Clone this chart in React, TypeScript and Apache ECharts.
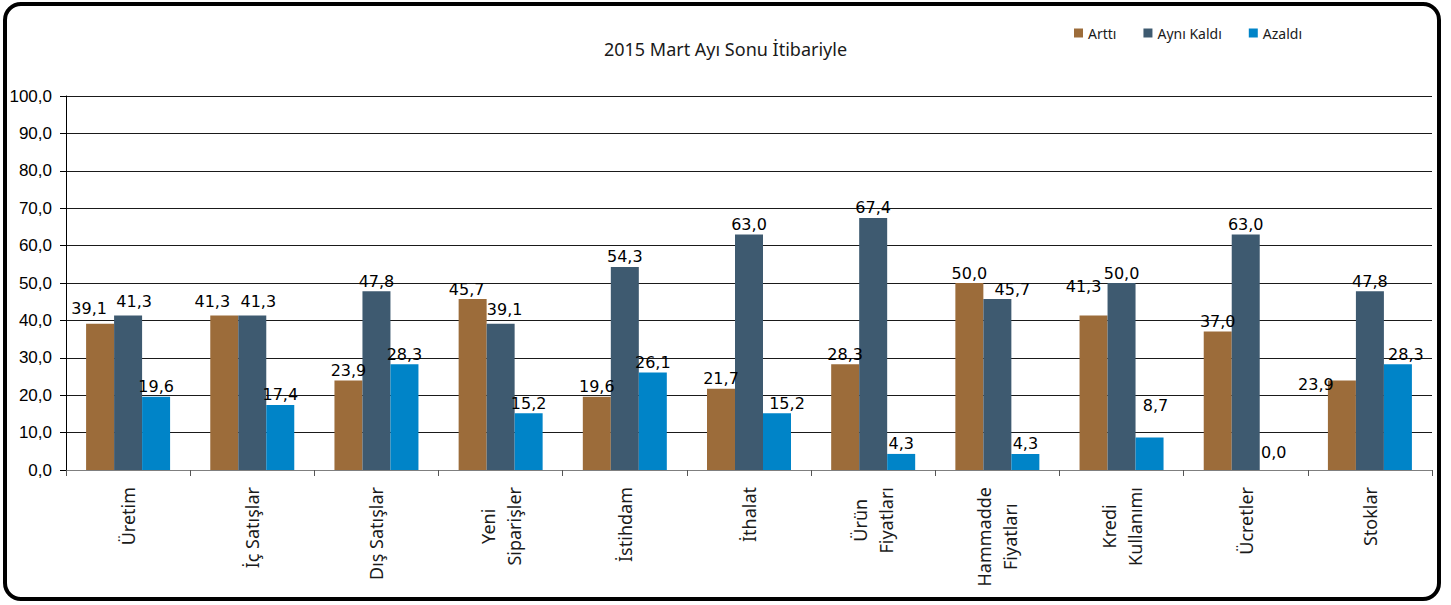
import React, { useEffect, useRef } from "react";
import * as echarts from "echarts";

const categories = [
  "Üretim",
  "İç Satışlar",
  "Dış Satışlar",
  "Yeni\nSiparişler",
  "İstihdam",
  "İthalat",
  "Ürün\nFiyatları",
  "Hammadde\nFiyatları",
  "Kredi\nKullanımı",
  "Ücretler",
  "Stoklar",
];
const arttiValues = [39.1, 41.3, 23.9, 45.7, 19.6, 21.7, 28.3, 50.0, 41.3, 37.0, 23.9];
const ayniKaldiValues = [41.3, 41.3, 47.8, 39.1, 54.3, 63.0, 67.4, 45.7, 50.0, 63.0, 47.8];
const azaldiValues = [19.6, 17.4, 28.3, 15.2, 26.1, 15.2, 4.3, 4.3, 8.7, 0.0, 28.3];
const seriesNames = ["Arttı", "Aynı Kaldı", "Azaldı"];
const titleText = "2015 Mart Ayı Sonu İtibariyle";

// style: colours and label nudges (as the original places some labels aside)
const seriesColors = ["#9C6C3A", "#3E5A70", "#0084C8"];
const labelNudges: Record<string, [number, number]> = {
  "0-0": [-11, -5],
  "1-0": [6, -4],
  "0-1": [-12, -4],
  "1-1": [6, -4],
  "0-3": [-6, 0],
  "1-3": [4, -4],
  "2-5": [10, 0],
  "1-7": [15, 0],
  "0-8": [-10, -19],
  "2-8": [6, -22],
  "2-9": [0, -8],
  "0-10": [-26, 14],
  "2-10": [8, 0],
};

const fmt = (v: number) => v.toFixed(1).replace(".", ",");

export default function App() {
  const ref = useRef<HTMLDivElement>(null);
  useEffect(() => {
    if (!ref.current) return;
    const chart = echarts.init(ref.current, null, { renderer: "svg" });
    const seriesData = [arttiValues, ayniKaldiValues, azaldiValues];
    chart.setOption({
      animation: false,
      backgroundColor: "#ffffff",
      title: {
        text: titleText,
        left: "center",
        top: 35,
        textStyle: {
          fontFamily: "Noto Sans",
          fontSize: 18,
          fontWeight: "normal",
          color: "#1a1a1a",
        },
      },
      legend: {
        data: seriesNames,
        left: 1069,
        top: 21,
        itemWidth: 9,
        itemHeight: 9,
        itemGap: 27,
        icon: "rect",
        textStyle: { fontFamily: "Noto Sans", fontSize: 14, color: "#1a1a1a" },
      },
      grid: { left: 66, right: 19, top: 96, bottom: 135, containLabel: false },
      xAxis: {
        type: "category",
        data: categories,
        boundaryGap: true,
        axisLine: { show: true, lineStyle: { color: "#7f7f7f", width: 1 } },
        axisTick: { show: true, length: 6, lineStyle: { color: "#555555" } },
        axisLabel: {
          rotate: 90,
          interval: 0,
          margin: 17,
          fontFamily: "Noto Sans",
          fontSize: 18,
          color: "#1a1a1a",
          lineHeight: 26,
          formatter: (v: string) =>
            v
              .split("\n")
              .map((l) => "{c|" + l + "}")
              .join("\n"),
          rich: {
            c: {
              align: "center",
              fontFamily: "Noto Sans",
              fontSize: 18,
              color: "#1a1a1a",
              lineHeight: 26,
            },
          },
        },
      },
      yAxis: {
        type: "value",
        min: 0,
        max: 100,
        interval: 10,
        axisLine: { show: true, lineStyle: { color: "#000000", width: 1 } },
        axisTick: { show: true, length: 6, lineStyle: { color: "#000000" } },
        axisLabel: {
          margin: 14,
          fontFamily: "Liberation Sans",
          fontSize: 17,
          color: "#000000",
          formatter: (v: number) => fmt(v),
        },
        splitLine: { show: true, lineStyle: { color: "#1a1a1a", width: 1 } },
      },
      series: seriesNames.map((name, i) => ({
        name,
        type: "bar",
        data: seriesData[i].map((v, j) => {
          const nudge = labelNudges[i + "-" + j];
          return nudge ? { value: v, label: { offset: nudge } } : v;
        }),
        barWidth: 28,
        barGap: "0%",
        itemStyle: { color: seriesColors[i] },
        label: {
          show: true,
          position: "top",
          distance: 2,
          fontFamily: "DejaVu Sans",
          fontSize: 16,
          color: "#000000",
          formatter: (p: any) => fmt(p.value),
        },
      })),
      graphic: [
        {
          type: "rect",
          shape: { x: 5, y: 4, width: 1434, height: 595, r: 16 },
          style: { fill: "none", stroke: "#000000", lineWidth: 4 },
          silent: true,
          z: 100,
        },
      ],
    });
    return () => chart.dispose();
  }, []);
  return (
    <div
      ref={ref}
      style={{ position: "fixed", left: 0, top: 0, width: 1451, height: 605 }}
    />
  );
}
